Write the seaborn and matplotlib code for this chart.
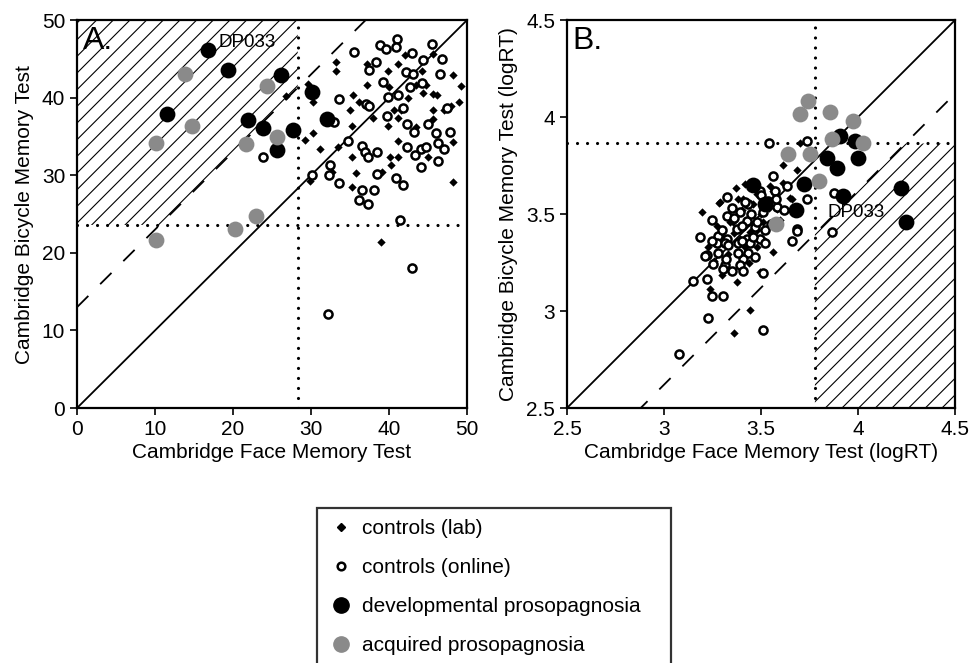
import numpy as np
import pandas as pd
import matplotlib
matplotlib.use('Agg')
import matplotlib.pyplot as plt
import seaborn as sns
from matplotlib.lines import Line2D

# ---- data ----
# Panel A: raw scores
a_lab_x = [33.2, 33.2, 37.2, 41.2, 39.9, 42.1, 44.2, 45.6, 37.2, 40.0, 35.4, 36.2, 35.0, 30.2, 29.2,
           31.1, 35.2, 38.0, 41.2, 39.9, 41.6, 43.5, 45.7, 45.7, 48.2, 49.2, 49.0, 48.0, 44.8, 45.7,
           46.1, 44.4, 43.5, 41.2, 35.2, 40.1, 41.2, 40.3, 35.8, 39.1, 35.2, 48.2, 45.0, 48.2, 33.5,
           32.7, 29.9, 47.0, 42.5, 40.6, 29.6, 30.3, 26.8, 39.0]
a_lab_y = [44.6, 43.5, 44.4, 44.4, 43.4, 45.5, 43.5, 45.7, 41.6, 41.4, 40.3, 39.5, 38.4, 35.4, 34.5,
           33.4, 36.4, 37.4, 37.4, 36.4, 38.4, 36.2, 37.3, 38.4, 42.9, 41.5, 39.4, 38.9, 41.6, 40.5,
           40.4, 40.6, 41.7, 34.4, 32.4, 32.3, 32.4, 31.3, 30.3, 30.4, 28.5, 29.1, 32.3, 34.3, 33.6,
           30.4, 29.3, 38.4, 40.0, 38.4, 41.8, 39.4, 40.2, 21.4]
a_online_x = [41.0, 38.8, 39.6, 40.9, 45.5, 35.5, 42.9, 44.3, 46.8, 38.4, 37.5, 42.2, 43.1, 46.5, 39.2,
              44.2, 42.7, 41.2, 39.9, 33.6, 37.1, 37.4, 41.8, 47.5, 39.7, 32.9, 42.3, 43.2, 45.0, 46.0,
              47.8, 34.7, 36.5, 42.3, 44.1, 44.7, 46.3, 36.9, 38.5, 43.3, 47.0, 37.3, 46.3, 32.4, 44.1,
              30.1, 32.3, 38.5, 40.9, 33.6, 41.8, 36.6, 38.1, 36.1, 37.3, 41.4, 42.9, 32.2, 23.8]
a_online_y = [47.6, 46.8, 46.3, 46.5, 46.9, 45.9, 45.8, 44.9, 45.0, 44.6, 43.6, 43.3, 43.1, 43.0, 42.0,
              41.9, 41.4, 40.4, 40.1, 39.9, 39.2, 38.9, 38.7, 38.7, 37.6, 36.9, 36.6, 35.6, 36.6, 35.4,
              35.6, 34.4, 33.8, 33.6, 33.4, 33.7, 34.1, 33.0, 33.0, 32.6, 33.4, 32.3, 31.8, 31.3, 31.1,
              30.1, 30.0, 30.2, 29.7, 29.0, 28.7, 28.1, 28.1, 26.8, 26.3, 24.2, 18.0, 12.1, 32.4]
a_dp_x = [16.8, 19.4, 26.1, 11.5, 21.9, 23.9, 27.7, 25.7, 30.1, 32.0]
a_dp_y = [46.1, 43.6, 42.9, 37.9, 37.1, 36.1, 35.8, 33.2, 40.7, 37.2]
a_ap_x = [13.8, 24.3, 14.8, 10.1, 25.6, 21.7, 22.9, 20.3, 10.1]
a_ap_y = [43.0, 41.5, 36.4, 34.2, 35.0, 34.0, 24.7, 23.1, 21.6]

# Panel B: log response times
b_lab_x = [3.615, 3.684, 3.371, 3.289, 3.194, 3.272, 3.658, 3.701, 3.409, 3.478, 3.512, 3.357, 3.443,
           3.392, 3.615, 3.546, 3.581, 3.228, 3.331, 3.563, 3.297, 3.375, 3.237, 3.443, 3.362, 3.479,
           3.285, 3.495, 3.418, 3.649, 3.34, 3.40, 3.44, 3.50, 3.36, 3.42, 3.48, 3.54, 3.30, 3.38,
           3.46, 3.56, 3.60, 3.26, 3.52, 3.44]
b_lab_y = [3.751, 3.727, 3.637, 3.563, 3.509, 3.440, 3.577, 3.868, 3.577, 3.603, 3.457, 3.457, 3.406,
           3.372, 3.662, 3.645, 3.526, 3.329, 3.295, 3.304, 3.187, 3.150, 3.115, 3.004, 2.885, 3.331,
           3.556, 3.201, 3.654, 3.581, 3.46, 3.52, 3.46, 3.50, 3.40, 3.33, 3.42, 3.53, 3.38, 3.58,
           3.55, 3.62, 3.47, 3.26, 3.36, 3.25]
b_online_x = [3.543, 3.736, 3.735, 3.326, 3.246, 3.186, 3.563, 3.572, 3.495, 3.632, 3.684, 3.658,
              3.392, 3.426, 3.323, 3.280, 3.375, 3.469, 3.512, 3.538, 3.435, 3.323, 3.426, 3.495,
              3.272, 3.314, 3.383, 3.443, 3.521, 3.220, 3.435, 3.409, 3.314, 3.349, 3.392, 3.409,
              3.512, 3.151, 3.220, 3.246, 3.303, 3.228, 3.512, 3.079, 3.211, 3.306, 3.254, 3.584,
              3.687, 3.876, 3.864, 3.30, 3.36, 3.40, 3.45, 3.48, 3.33, 3.38, 3.46, 3.52, 3.42,
              3.50, 3.58, 3.35, 3.28, 3.40, 3.47, 3.55, 3.62, 3.25, 3.32]
b_online_y = [3.868, 3.876, 3.577, 3.586, 3.471, 3.380, 3.697, 3.620, 3.620, 3.645, 3.423, 3.360,
              3.509, 3.466, 3.491, 3.389, 3.423, 3.432, 3.509, 3.568, 3.551, 3.372, 3.372, 3.372,
              3.353, 3.353, 3.353, 3.353, 3.353, 3.290, 3.300, 3.266, 3.238, 3.209, 3.235, 3.206,
              3.197, 3.153, 3.167, 3.078, 3.078, 2.965, 2.902, 2.777, 3.286, 3.218, 3.244, 3.534,
              3.414, 3.608, 3.406, 3.42, 3.48, 3.44, 3.50, 3.46, 3.34, 3.30, 3.38, 3.42, 3.56,
              3.60, 3.58, 3.53, 3.30, 3.36, 3.28, 3.45, 3.52, 3.36, 3.27]
b_dp_x = [3.907, 3.985, 3.842, 4.000, 3.893, 3.460, 3.720, 4.220, 3.924, 3.680, 4.246, 3.52]
b_dp_y = [3.902, 3.879, 3.790, 3.790, 3.740, 3.649, 3.654, 3.637, 3.594, 3.520, 3.457, 3.55]
b_ap_x = [3.744, 3.700, 3.856, 3.976, 3.864, 4.024, 3.638, 3.753, 3.800, 3.580]
b_ap_y = [4.081, 4.018, 4.025, 3.979, 3.885, 3.868, 3.810, 3.810, 3.671, 3.449]

# cut-offs and offsets of the reference lines
a_cut_x, a_cut_y, a_offset = 28.3, 23.6, 13.0
b_cut_x, b_cut_y, b_offset = 3.778, 3.864, -0.38

groups = ['controls (lab)', 'controls (online)', 'developmental prosopagnosia', 'acquired prosopagnosia']


def make_frame(lab_x, lab_y, onl_x, onl_y, dp_x, dp_y, ap_x, ap_y):
    parts = []
    for g, xs, ys in zip(groups, [lab_x, onl_x, dp_x, ap_x], [lab_y, onl_y, dp_y, ap_y]):
        parts.append(pd.DataFrame({'x': xs, 'y': ys, 'group': g}))
    return pd.concat(parts, ignore_index=True)


df_a = make_frame(a_lab_x, a_lab_y, a_online_x, a_online_y, a_dp_x, a_dp_y, a_ap_x, a_ap_y)
df_b = make_frame(b_lab_x, b_lab_y, b_online_x, b_online_y, b_dp_x, b_dp_y, b_ap_x, b_ap_y)

sns.set_style('ticks')
plt.rcParams['font.family'] = ['Liberation Sans', 'DejaVu Sans']
plt.rcParams['lines.scale_dashes'] = False
plt.rcParams['hatch.linewidth'] = 0.8
for key in ['text.color', 'axes.labelcolor', 'xtick.color', 'ytick.color', 'axes.edgecolor']:
    plt.rcParams[key] = 'black'

GREY = '#8a8a8a'
styles = {
    'controls (lab)': dict(marker='D', s=18, color='black', linewidth=0),
    'controls (online)': dict(marker='o', s=34, facecolor='white', edgecolor='black', linewidth=1.8),
    'developmental prosopagnosia': dict(marker='o', s=130, color='black', linewidth=0),
    'acquired prosopagnosia': dict(marker='o', s=130, color=GREY, linewidth=0),
}

fig = plt.figure(figsize=(9.7, 6.63), dpi=100)
ax_a = fig.add_axes([0.0794, 0.3846, 0.402, 0.585])
ax_b = fig.add_axes([0.5845, 0.3846, 0.400, 0.585])


def draw_panel(ax, df, lo, hi, cut_x, cut_y, offset, hatch_poly):
    ax.fill([p[0] for p in hatch_poly], [p[1] for p in hatch_poly], fill=False, hatch='//',
            edgecolor='black', linewidth=0, zorder=0)
    ax.plot([lo, hi], [lo, hi], color='black', lw=1.3, zorder=1)
    ax.plot([lo, hi], [lo + offset, hi + offset], color='black', lw=1.3,
            linestyle=(0, (11.5, 12)), zorder=1)
    dot = dict(color='black', lw=2.3, linestyle=(0, (0.01, 7.2)), dash_capstyle='round', zorder=1)
    ax.plot([cut_x, cut_x], [lo, hi], **dot)
    ax.plot([lo, hi], [cut_y, cut_y], **dot)
    for g in groups:
        sub = df[df['group'] == g]
        sns.scatterplot(data=sub, x='x', y='y', ax=ax, legend=False, zorder=3, **styles[g])
    ax.set_xlim(lo, hi)
    ax.set_ylim(lo, hi)
    for sp in ax.spines.values():
        sp.set_linewidth(1.6)
        sp.set_visible(True)
    ax.tick_params(direction='out', length=5, width=1.2, labelsize=15)


# panel A: hatched region above the dashed line, left of / above the cut-offs
poly_a = [(0, a_cut_y), (a_cut_y - a_offset, a_cut_y), (a_cut_x, a_cut_x + a_offset), (a_cut_x, 50), (0, 50)]
draw_panel(ax_a, df_a, 0, 50, a_cut_x, a_cut_y, a_offset, poly_a)
ax_a.set_xticks([0, 10, 20, 30, 40, 50])
ax_a.set_yticks([0, 10, 20, 30, 40, 50])
ax_a.set_xlabel('Cambridge Face Memory Test', fontsize=15, labelpad=3)
ax_a.set_ylabel('Cambridge Bicycle Memory Test', fontsize=15, labelpad=6)
ax_a.text(0.015, 0.985, 'A.', transform=ax_a.transAxes, fontsize=23, va='top', ha='left')
ax_a.text(18.1, 47.1, 'DP033', fontsize=13.5, va='center', ha='left')

# panel B: hatched region below the dashed line, right of / below the cut-offs
poly_b = [(b_cut_x, 2.5), (4.5, 2.5), (4.5, b_cut_y), (b_cut_y - b_offset, b_cut_y),
          (b_cut_x, b_cut_x + b_offset)]
draw_panel(ax_b, df_b, 2.5, 4.5, b_cut_x, b_cut_y, b_offset, poly_b)
b_ticks = [2.5, 3, 3.5, 4, 4.5]
b_tick_labels = ['2.5', '3', '3.5', '4', '4.5']
ax_b.set_xticks(b_ticks)
ax_b.set_xticklabels(b_tick_labels)
ax_b.set_yticks(b_ticks)
ax_b.set_yticklabels(b_tick_labels)
ax_b.set_xlabel('Cambridge Face Memory Test (logRT)', fontsize=15, labelpad=3)
ax_b.set_ylabel('Cambridge Bicycle Memory Test (logRT)', fontsize=15, labelpad=6)
ax_b.text(0.015, 0.985, 'B.', transform=ax_b.transAxes, fontsize=23, va='top', ha='left')
ax_b.text(3.845, 3.51, 'DP033', fontsize=13.5, va='center', ha='left')

# legend
handles = [
    Line2D([], [], linestyle='none', marker='D', markersize=4, color='black'),
    Line2D([], [], linestyle='none', marker='o', markersize=5.5, markerfacecolor='white',
           markeredgecolor='black', markeredgewidth=1.8),
    Line2D([], [], linestyle='none', marker='o', markersize=11, color='black'),
    Line2D([], [], linestyle='none', marker='o', markersize=11, color=GREY),
]
leg = fig.legend(handles, groups, loc='upper left', mode='expand',
                 bbox_to_anchor=(317 / 970, 0, 354 / 970, 1 - 508 / 663),
                 fontsize=15, frameon=True, fancybox=False, edgecolor='black',
                 borderaxespad=0, borderpad=0.55, labelspacing=0.95, handletextpad=0.4,
                 handlelength=1.2)
leg.get_frame().set_linewidth(1.6)

fig.savefig('out.png', dpi=100)
